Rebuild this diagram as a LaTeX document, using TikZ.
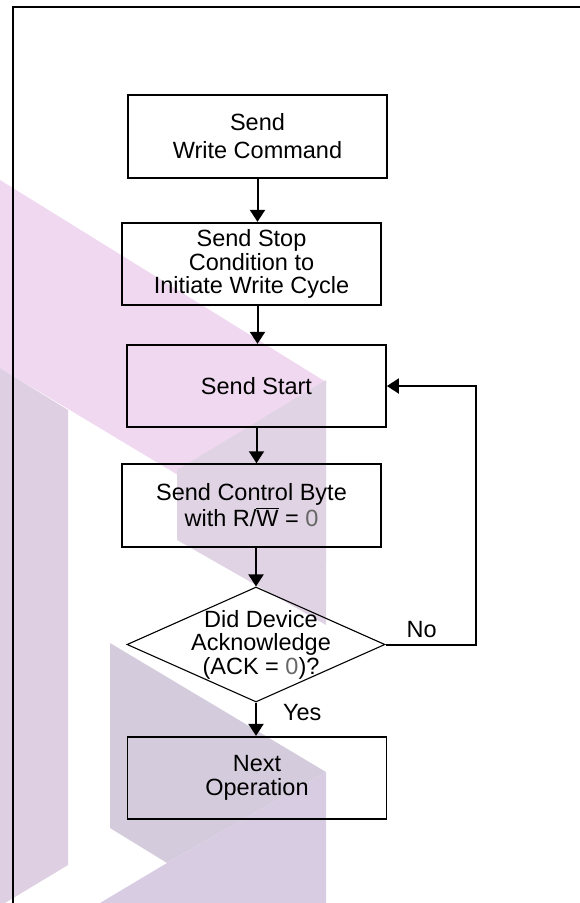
\documentclass[tikz,border=0pt]{standalone}
\usepackage{fontspec}
\setmainfont{Liberation Sans}
\usetikzlibrary{shapes.geometric,arrows.meta,positioning}
\definecolor{wmPink}{RGB}{240,216,240}
\definecolor{wmBand}{RGB}{222,208,226}
\definecolor{wmMid}{RGB}{224,212,228}
\definecolor{wmLow}{RGB}{212,204,220}
\definecolor{wmFoot}{RGB}{216,204,226}
\newcommand{\barW}{\vbox{\hrule height 1.3pt\kern 1.2pt\hbox{W}}}
\newcommand{\lowzero}{\textcolor{black!60}{0}}

\begin{document}
\begin{tikzpicture}[x=1pt,y=-1pt,
  every node/.style={align=center,inner sep=0pt,font=\fontsize{23.5}{23.5}\selectfont},
  stepbox/.style={draw,line width=1.8pt,minimum width=259pt,minimum height=82.5pt},
  decision/.style={draw,diamond,line width=1.1pt,minimum width=258pt,minimum height=115pt},
  flow/.style={line width=2pt,-{Triangle[length=12pt,width=15pt]}}]
\useasboundingbox (0,0) rectangle (580,903);
\fill [wmPink] (0,180) -- (326,382) -- (326,564) -- (0,368) -- cycle;
\fill [wmBand] (0,368) -- (68,410) -- (68,865) -- (0,906) -- cycle;
\fill [wmMid] (177,470) -- (326,380) -- (326,625) -- (177,540) -- cycle;
\fill [wmLow] (110,643) -- (326,772) -- (167,863) -- (110,828) -- cycle;
\fill [wmFoot] (167,863) -- (326,772) -- (326,903) -- (100,903) -- cycle;
\draw [line width=2pt] (13,903) -- (13,7) -- (580,7);
\node [stepbox] (SendWrite) at (257.5,136.4) {Send\\[4.5pt]Write Command};
\node [stepbox] (SendStop) at (251.5,264) {Send Stop\\Condition to\\Initiate Write Cycle};
\node [stepbox] (SendStart) at (256.5,386) {Send Start};
\node [stepbox] (SendControl) at (251.5,505.4) {Send Control Byte\\[1.5pt]with R/\barW{} = \lowzero};
\node [decision] (DidAck) at (256,644.5) {};
\node (DidAckText) at ([xshift=5pt]DidAck.center) {Did Device\\Acknowledge\\(ACK = \lowzero)?};
\node [stepbox] (NextOp) at (257,778) {Next\\Operation};
\draw [flow] (SendWrite) -- (SendWrite |- SendStop.north);
\draw [flow] (SendStop.south -| SendWrite) -- (SendWrite |- SendStart.north);
\draw [flow] (SendStart) -- (SendStart |- SendControl.north);
\draw [flow] (SendControl.south -| DidAck) -- (DidAck.north);
\draw [flow] (DidAck.south) -- node [pos=0.3,right=26pt] {Yes} (DidAck |- NextOp.north);
\draw [flow] (DidAck.east) -- node [pos=0.4,above=6pt] {No} ++(90,0) |- (SendStart.east);
\end{tikzpicture}
\end{document}
